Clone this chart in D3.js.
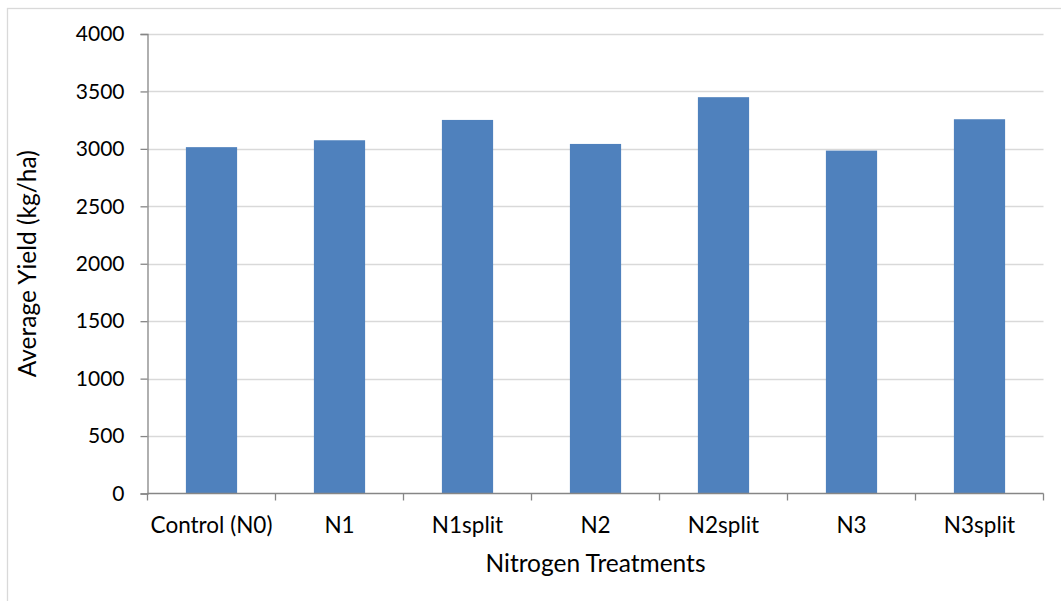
<!DOCTYPE html>
<html>
<head>
<meta charset="utf-8">
<script src="https://cdn.jsdelivr.net/npm/d3@7"></script>
<style>
  html, body { margin: 0; padding: 0; background: #fff; }
  svg { display: block; }
  text { font-family: Lato, "Open Sans", sans-serif; fill: #000; }
</style>
</head>
<body>
<svg id="chart" width="1061" height="601"></svg>
<script>
// Average yield per nitrogen treatment (kg/ha)
const treatments = ["Control (N0)", "N1", "N1split", "N2", "N2split", "N3", "N3split"];
const yields = [3015, 3075, 3252, 3043, 3450, 2985, 3258];
const yTicks = [0, 500, 1000, 1500, 2000, 2500, 3000, 3500, 4000];

const svg = d3.select("#chart");
const W = 1061, H = 601;
const plot = { left: 147.5, right: 1043.5, top: 34, bottom: 493.5 };

// Chart frame
svg.append("rect")
  .attr("x", 7.5).attr("y", 8.5)
  .attr("width", W + 10).attr("height", H + 10)
  .attr("fill", "#fff").attr("stroke", "#d9d9d9").attr("stroke-width", 1.3);

const x = d3.scaleBand()
  .domain(treatments)
  .range([plot.left, plot.right])
  .paddingInner(0.6)
  .paddingOuter(0.3);

const y = d3.scaleLinear()
  .domain([0, 4000])
  .range([plot.bottom, plot.top]);

// Horizontal gridlines
svg.append("g")
  .selectAll("line")
  .data(yTicks.filter(d => d > 0))
  .join("line")
  .attr("x1", plot.left).attr("x2", plot.right)
  .attr("y1", d => Math.round(y(d)) + 0.5).attr("y2", d => Math.round(y(d)) + 0.5)
  .attr("stroke", "#d9d9d9").attr("stroke-width", 1.3);

// Bars
svg.append("g")
  .selectAll("rect")
  .data(treatments)
  .join("rect")
  .attr("x", d => x(d))
  .attr("width", x.bandwidth())
  .attr("y", (d, i) => y(yields[i]))
  .attr("height", (d, i) => plot.bottom - y(yields[i]))
  .attr("fill", "#4f81bd");

// Y axis
const yAxis = svg.append("g")
  .attr("transform", `translate(${plot.left},0)`)
  .call(d3.axisLeft(y).tickValues(yTicks).tickSize(7).tickPadding(16).tickFormat(d3.format("d")));
yAxis.select(".domain").attr("stroke", "#868686").attr("stroke-width", 1.3);
yAxis.selectAll(".tick line").attr("stroke", "#868686").attr("stroke-width", 1.3);
yAxis.selectAll(".tick text").attr("font-size", 21).attr("fill", "#000")
  .style("font-family", "Lato, sans-serif");

// X axis with boundary ticks between categories
const xAxisG = svg.append("g").attr("transform", `translate(0,${plot.bottom})`);
xAxisG.append("line")
  .attr("x1", plot.left).attr("x2", plot.right)
  .attr("stroke", "#868686").attr("stroke-width", 1.3);
const bounds = d3.range(treatments.length + 1).map(i => plot.left + i * (plot.right - plot.left) / treatments.length);
xAxisG.selectAll("line.b")
  .data(bounds)
  .join("line").attr("class", "b")
  .attr("x1", d => d).attr("x2", d => d)
  .attr("y1", 0).attr("y2", 7)
  .attr("stroke", "#868686").attr("stroke-width", 1.3);
xAxisG.selectAll("text")
  .data(treatments)
  .join("text")
  .attr("x", d => x(d) + x.bandwidth() / 2)
  .attr("y", 39)
  .attr("text-anchor", "middle")
  .attr("font-size", 22.5)
  .text(d => d);

// Axis titles
svg.append("text")
  .attr("x", (plot.left + plot.right) / 2)
  .attr("y", 572)
  .attr("text-anchor", "middle")
  .attr("font-size", 24.5)
  .text("Nitrogen Treatments");

svg.append("text")
  .attr("transform", `translate(36,${(plot.top + plot.bottom) / 2}) rotate(-90)`)
  .attr("text-anchor", "middle")
  .attr("font-size", 24.5)
  .text("Average Yield (kg/ha)");
</script>
</body>
</html>
